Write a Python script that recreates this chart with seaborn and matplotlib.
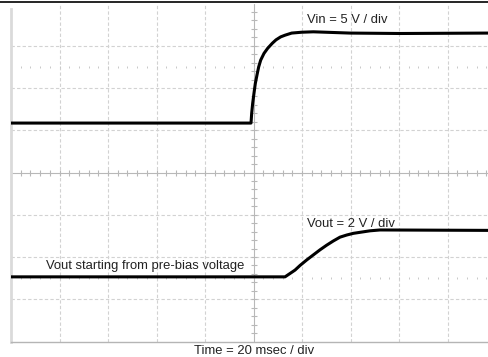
import numpy as np
import pandas as pd
import matplotlib
matplotlib.use("Agg")
import matplotlib.pyplot as plt
from matplotlib.lines import Line2D
import seaborn as sns

# Scope capture: time in ms (20 ms / div), amplitude in screen divisions (0 = bottom, 8 = top)
vin_t = [0, 98.97, 99.24, 99.66, 100.2, 100.75, 101.58, 102.13, 102.96, 104.33, 105.84,
         107.77, 109.28, 111.2, 113.0, 115.74, 119.87, 124.67, 139.8, 160.4, 197.1]
vin_y = [5.17, 5.17, 5.40, 5.64, 5.88, 6.11, 6.35, 6.50, 6.66, 6.82, 6.94,
         7.06, 7.14, 7.21, 7.25, 7.30, 7.32, 7.33, 7.30, 7.29, 7.30]

vout_t = [0, 112.99, 115.05, 117.11, 119.18, 121.93, 124.67, 127.42, 130.17, 132.92,
          135.67, 138.42, 141.17, 144.6, 148.04, 152.16, 197.1]
vout_y = [1.53, 1.53, 1.61, 1.69, 1.80, 1.93, 2.05, 2.17, 2.28, 2.38,
          2.47, 2.52, 2.56, 2.59, 2.62, 2.64, 2.63]

labels = ["Vin = 5 V / div", "Vout = 2 V / div", "Vout starting from pre-bias voltage"]
xlabel = "Time = 20 msec / div"

vin_df = pd.DataFrame({"t": vin_t, "y": vin_y})
vout_df = pd.DataFrame({"t": vout_t, "y": vout_y})

sns.set_style("white")
plt.rcParams["font.family"] = ["Liberation Sans", "DejaVu Sans"]

fig = plt.figure(figsize=(4.89, 3.57), dpi=100)
ax = fig.add_axes([11 / 489, 15.5 / 357, 1 - 11 / 489, 338 / 357])

# graticule
for x in range(20, 200, 20):
    if x != 100:
        ax.axvline(x, color="#d2d2d2", lw=0.8, ls=(0, (3, 2)), zorder=0)
for y in range(1, 8):
    if y != 4:
        ax.axhline(y, color="#d2d2d2", lw=0.8, ls=(0, (3, 2)), zorder=0)

# center crosshair with minor ticks
ax.axhline(4, color="#b8b8b8", lw=0.8, zorder=1)
ax.axvline(100, color="#b8b8b8", lw=0.8, zorder=1)
tx = np.arange(4, 200, 4)
ax.scatter(tx, np.full(len(tx), 4.0), marker="|", s=25, color="#b8b8b8", lw=0.8, zorder=1)
ty = np.arange(0.2, 8, 0.2)
ax.scatter(np.full(len(ty), 100.0), ty, marker="_", s=25, color="#b8b8b8", lw=0.8, zorder=1)

# faint dotted rows
for yr in (6.5, 1.5):
    ax.scatter(tx, np.full(len(tx), yr), marker="|", s=4, color="#c8c8c8", lw=0.7, zorder=1)

sns.lineplot(data=vin_df, x="t", y="y", color="black", lw=2.2, estimator=None, ax=ax, zorder=3)
sns.lineplot(data=vout_df, x="t", y="y", color="black", lw=2.2, estimator=None, ax=ax, zorder=3)

fs = 9.4
ax.text(121.9, 7.546, labels[0], fontsize=fs, color="#222222", va="baseline", ha="left")
ax.text(121.9, 2.717, labels[1], fontsize=fs, color="#222222", va="baseline", ha="left")
ax.text(14.3, 1.709, labels[2], fontsize=fs, color="#222222", va="baseline", ha="left", zorder=4)

ax.set_xlim(0, 197.1)
ax.set_ylim(0, 8)
ax.set_xticks([])
ax.set_yticks([])
ax.set_xlabel("")
ax.set_ylabel("")
for s in ("top", "right"):
    ax.spines[s].set_visible(False)
ax.spines["left"].set_color("#dadada")
ax.spines["left"].set_linewidth(2)
ax.spines["left"].set_bounds(0, 7.87)
ax.spines["bottom"].set_color("#b5b5b5")
ax.spines["bottom"].set_linewidth(1)

fig.text(254 / 489, 2.7 / 357, xlabel, fontsize=fs, color="#222222", ha="center", va="baseline")
fig.add_artist(Line2D([0, 1], [355 / 357, 355 / 357], color="black", lw=1.2))

fig.savefig("out.png", dpi=100)
